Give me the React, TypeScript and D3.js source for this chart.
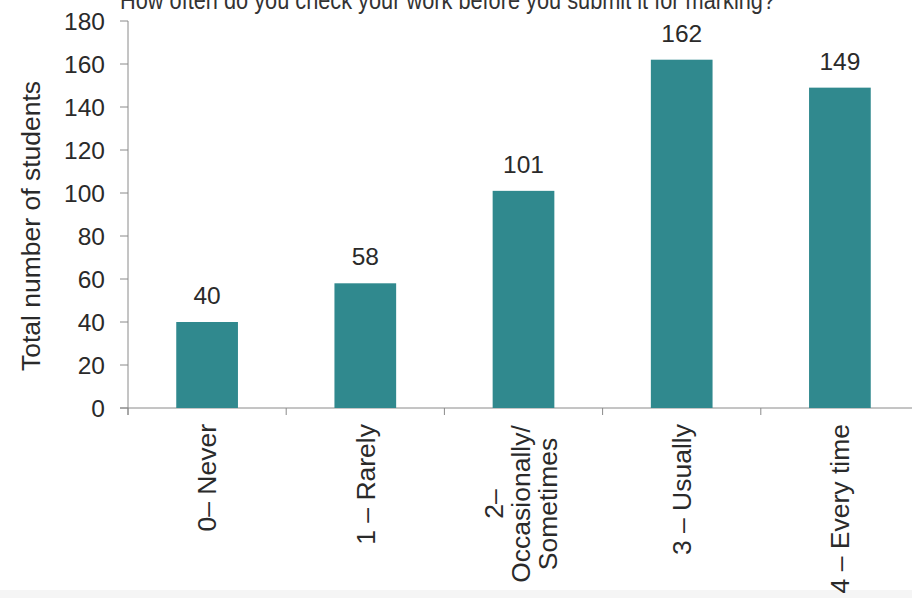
import React from "react";
import * as d3 from "d3";

const categories: string[][] = [
  ["0– Never"],
  ["1 – Rarely"],
  ["2–", "Occasionally/", "Sometimes"],
  ["3 – Usually"],
  ["4 – Every time"],
];
const values: number[] = [40, 58, 101, 162, 149];
const yTicks: number[] = [0, 20, 40, 60, 80, 100, 120, 140, 160, 180];
const yTitle = "Total number of students";
const title = "How often do you check your work before you submit it for marking?";

const W = 912;
const H = 598;
const FONT = "'Liberation Sans', Arial, sans-serif";
const BAR = "#30898e";
const AXIS = "#8a8a8a";
const TEXT = "#2a2a2a";
const FS = 24.5;
const FSR = 26.5;

export default function App() {
  const left = 128;
  const bandW = 158.2;
  const x = d3
    .scaleBand<number>()
    .domain(d3.range(categories.length))
    .range([left, left + bandW * categories.length])
    .paddingInner(0.61)
    .paddingOuter(0.305);
  const y = d3.scaleLinear().domain([0, 180]).range([408, 21]);
  const boundaries = d3.range(categories.length + 1).map((i) => left + i * bandW);

  return (
    <svg
      width={W}
      height={H}
      style={{ position: "absolute", left: 0, top: 0, background: "#fff" }}
      fontFamily={FONT}
    >
      <rect x={0} y={0} width={W} height={H} fill="#fff" />
      <rect x={0} y={590} width={W} height={8} fill="#f5f5f5" />
      <text x={120} y={9} fontSize={26} fill="#333" textLength={655} lengthAdjust="spacingAndGlyphs">
        {title}
      </text>
      {/* y axis */}
      <line x1={left} x2={left} y1={y(180)} y2={415} stroke={AXIS} strokeWidth={1} />
      {yTicks.map((t) => (
        <g key={t}>
          <line x1={left - 8} x2={left} y1={y(t)} y2={y(t)} stroke={AXIS} />
          <text x={105} y={y(t)} dy="0.35em" textAnchor="end" fontSize={FS} fill={TEXT}>
            {t}
          </text>
        </g>
      ))}
      {/* x axis */}
      <line x1={left - 8} x2={W} y1={y(0)} y2={y(0)} stroke={AXIS} />
      {boundaries.map((b, i) => (
        <line key={i} x1={b} x2={b} y1={y(0)} y2={y(0) + 7} stroke={AXIS} />
      ))}
      {values.map((v, i) => (
        <g key={i}>
          <rect x={x(i)!} y={y(v)} width={x.bandwidth()} height={y(0) - y(v)} fill={BAR} />
          <text x={x(i)! + x.bandwidth() / 2} y={y(v) - 18} textAnchor="middle" fontSize={FS} fill={TEXT}>
            {v}
          </text>
        </g>
      ))}
      {categories.map((lines, i) => {
        const cx = x(i)! + x.bandwidth() / 2;
        if (lines.length === 1) {
          return (
            <text
              key={i}
              transform={`translate(${cx},424) rotate(-90)`}
              dy="0.35em"
              textAnchor="end"
              fontSize={FSR}
              fill={TEXT}
            >
              {lines[0]}
            </text>
          );
        }
        const lh = 27;
        return (
          <text
            key={i}
            transform={`translate(${cx - 3},504) rotate(-90)`}
            textAnchor="middle"
            fontSize={FSR}
            fill={TEXT}
          >
            {lines.map((l, j) => (
              <tspan key={j} x={0} dy={j === 0 ? `${(-(lines.length - 1) / 2) * lh + 9}` : lh}>
                {l}
              </tspan>
            ))}
          </text>
        );
      })}
      <text
        transform={`translate(40,226) rotate(-90)`}
        textAnchor="middle"
        fontSize={FSR}
        fill={TEXT}
      >
        {yTitle}
      </text>
    </svg>
  );
}
